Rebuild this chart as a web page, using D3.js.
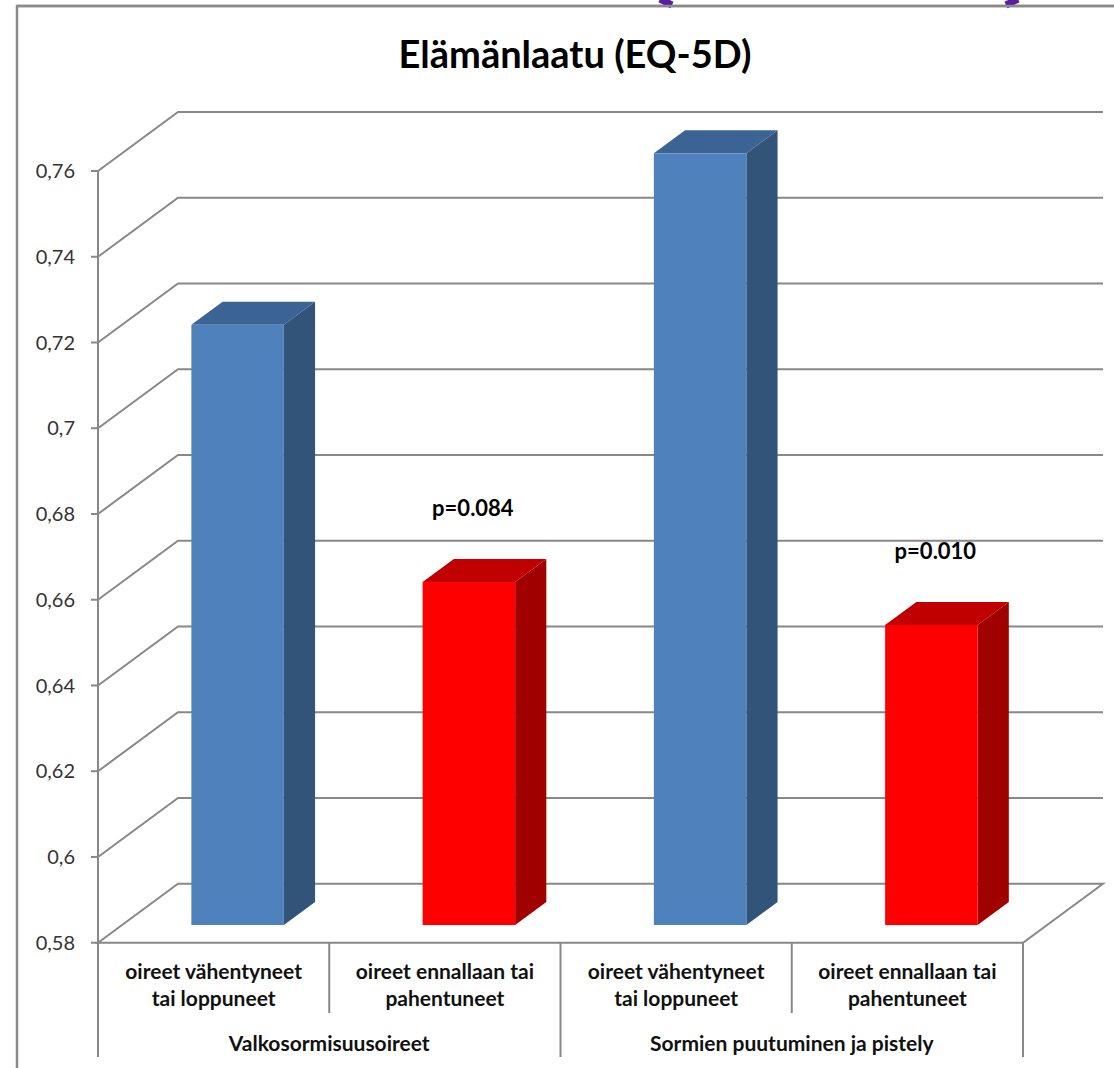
<!DOCTYPE html>
<html>
<head>
<meta charset="utf-8">
<script src="https://cdn.jsdelivr.net/npm/d3@7"></script>
<style>
  html, body { margin: 0; padding: 0; background: #ffffff; }
  svg { display: block; font-family: Lato, "Open Sans", sans-serif; }
</style>
</head>
<body>
<svg id="chart" width="1114" height="1068"></svg>
<script>
// Chart data
const title = "Elämänlaatu (EQ-5D)";
const categories = [
  ["oireet vähentyneet", "tai loppuneet"],
  ["oireet ennallaan tai", "pahentuneet"],
  ["oireet vähentyneet", "tai loppuneet"],
  ["oireet ennallaan tai", "pahentuneet"]
];
const groups = ["Valkosormisuusoireet", "Sormien puutuminen ja pistely"];
const values = [0.72, 0.66, 0.76, 0.65];
const kinds = ["improved", "worse", "improved", "worse"];
const pLabels = ["", "p=0.084", "", "p=0.010"];
const yTicks = [0.58, 0.6, 0.62, 0.64, 0.66, 0.68, 0.7, 0.72, 0.74, 0.76];
const yTickLabels = ["0,58", "0,6", "0,62", "0,64", "0,66", "0,68", "0,7", "0,72", "0,74", "0,76"];

const svg = d3.select("#chart");

// 3D plot geometry
const left = 98, right = 1023;
const depth = { dx: 80, dy: -59 };
const barFront = 0.30, barBack = 0.69;
const gridColor = "#888888";

const y = d3.scaleLinear().domain([0.58, 0.76]).range([942.7, 171]);
const x = d3.scaleBand().domain(d3.range(categories.length)).range([left, right]).paddingInner(0).paddingOuter(0);
const barW = x.bandwidth() * 0.4;

const colors = {
  improved: { front: "#4F81BD", top: "#3B6494", side: "#325479" },
  worse:    { front: "#FF0000", top: "#C00000", side: "#A00000" }
};

// outer frame of the chart area
svg.append("path")
  .attr("d", "M17,1068 L17,6 L1114,6")
  .attr("fill", "none").attr("stroke", "#8a8a8a").attr("stroke-width", 2.5);

// decorative purple strokes at the top edge
svg.append("path").attr("d", "M660,-1 L672,5").attr("stroke", "#5a1f9e").attr("stroke-width", 7).attr("fill", "none");
svg.append("path").attr("d", "M1018,-1 L1006,5").attr("stroke", "#5a1f9e").attr("stroke-width", 7).attr("fill", "none");
svg.append("path")
  .attr("d", "M17,6 L1114,6")
  .attr("fill", "none").attr("stroke", "#8a8a8a").attr("stroke-width", 2.5);

// gridlines: side wall diagonal + back wall horizontal
const grid = svg.append("g").attr("fill", "none").attr("stroke", gridColor).attr("stroke-width", 2);
yTicks.forEach((t, i) => {
  const yy = y(t);
  if (i === 0) {
    // floor
    grid.append("path").attr("d",
      `M${left},${yy} L${left + depth.dx},${yy + depth.dy} L${right + depth.dx},${yy + depth.dy} L${right},${yy} Z`);
  } else {
    grid.append("path").attr("d",
      `M${left},${yy} L${left + depth.dx},${yy + depth.dy} L${right + depth.dx},${yy + depth.dy}`);
  }
});

// y axis line and ticks
const axis = svg.append("g").attr("stroke", gridColor).attr("stroke-width", 2);
axis.append("line").attr("x1", left).attr("x2", left).attr("y1", y(0.76)).attr("y2", 1057);
yTicks.forEach(t => {
  axis.append("line").attr("x1", left - 7).attr("x2", left).attr("y1", y(t)).attr("y2", y(t));
});
svg.append("g").selectAll("text").data(yTicks).join("text")
  .attr("x", 75).attr("y", d => y(d)).attr("dy", "0.36em")
  .attr("text-anchor", "end").attr("font-size", 20).attr("fill", "#333333")
  .text((d, i) => yTickLabels[i]);

// category dividers below the floor
const dividers = svg.append("g").attr("stroke", gridColor).attr("stroke-width", 2);
d3.range(categories.length + 1).forEach(i => {
  const xx = i === categories.length ? right : x(i);
  const isGroupEdge = i % 2 === 0;
  dividers.append("line").attr("x1", xx).attr("x2", xx)
    .attr("y1", y(0.58)).attr("y2", isGroupEdge ? 1057 : 1013);
});

// bars
const bars = svg.append("g");
values.forEach((v, i) => {
  const c = colors[kinds[i]];
  const fx0 = x(i) + x.bandwidth() / 2 - barW / 2 + depth.dx * barFront;
  const fx1 = fx0 + barW;
  const fyTop = y(v) + depth.dy * barFront;
  const fyBot = y(0.58) + depth.dy * barFront;
  const bdx = depth.dx * (barBack - barFront), bdy = depth.dy * (barBack - barFront);
  bars.append("path").attr("fill", c.side).attr("d",
    `M${fx1},${fyTop} L${fx1 + bdx},${fyTop + bdy} L${fx1 + bdx},${fyBot + bdy} L${fx1},${fyBot} Z`);
  bars.append("path").attr("fill", c.top).attr("d",
    `M${fx0},${fyTop} L${fx0 + bdx},${fyTop + bdy} L${fx1 + bdx},${fyTop + bdy} L${fx1},${fyTop} Z`);
  bars.append("rect").attr("fill", c.front)
    .attr("x", fx0).attr("y", fyTop).attr("width", barW).attr("height", fyBot - fyTop);
  if (pLabels[i]) {
    bars.append("text")
      .attr("x", (fx0 + fx1) / 2 + 4).attr("y", y(v) - 84)
      .attr("text-anchor", "middle").attr("font-size", 22).attr("font-weight", 700)
      .attr("fill", "#000000").text(pLabels[i]);
  }
});

// category labels
const catG = svg.append("g").attr("font-size", 21).attr("font-weight", 700).attr("fill", "#111111").attr("text-anchor", "middle");
categories.forEach((lines, i) => {
  const cx = x(i) + x.bandwidth() / 2;
  lines.forEach((ln, j) => {
    catG.append("text").attr("x", cx).attr("y", 979 + j * 27).text(ln);
  });
});

// group labels
const grpG = svg.append("g").attr("font-size", 21).attr("font-weight", 700).attr("fill", "#111111").attr("text-anchor", "middle");
groups.forEach((g, k) => {
  const cx = (x(2 * k) + (k === groups.length - 1 ? right : x(2 * k + 2))) / 2;
  grpG.append("text").attr("x", cx).attr("y", 1051).text(g);
});

// title
svg.append("text").attr("x", 575).attr("y", 68).attr("text-anchor", "middle")
  .attr("font-size", 38).attr("font-weight", 700).attr("fill", "#000000").text(title);
</script>
</body>
</html>
